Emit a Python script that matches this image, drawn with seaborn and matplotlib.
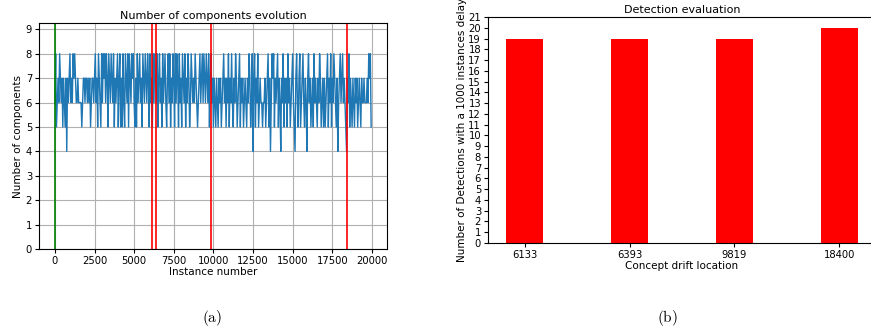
import numpy as np
import pandas as pd
import matplotlib
matplotlib.use('Agg')
import matplotlib.pyplot as plt
import seaborn as sns

components = [
    6, 8, 5, 6, 7, 6, 8, 7, 6, 7, 5, 7, 6, 5, 7, 4, 7, 6, 7, 8,
    6, 7, 6, 8, 7, 8, 7, 6, 6, 7, 6, 6, 6, 6, 5, 6, 7, 7, 6, 7,
    7, 6, 7, 6, 7, 5, 6, 7, 7, 6, 7, 8, 6, 7, 5, 8, 7, 6, 5, 8,
    6, 8, 7, 8, 6, 8, 7, 5, 8, 7, 6, 8, 7, 6, 8, 5, 7, 6, 7, 8,
    5, 7, 8, 5, 7, 5, 8, 6, 5, 8, 7, 6, 8, 5, 8, 7, 6, 8, 7, 8,
    6, 5, 7, 5, 8, 6, 7, 8, 6, 7, 5, 8, 7, 6, 8, 7, 6, 8, 7, 5,
    8, 6, 7, 5, 8, 6, 8, 7, 6, 8, 5, 7, 8, 6, 7, 5, 8, 6, 7, 8,
    6, 5, 7, 8, 6, 8, 5, 7, 6, 8, 7, 5, 8, 6, 8, 7, 5, 8, 6, 7,
    5, 8, 7, 6, 8, 5, 7, 6, 8, 7, 5, 6, 8, 7, 6, 7, 6, 8, 7, 6,
    5, 6, 7, 8, 6, 7, 8, 6, 8, 7, 6, 8, 7, 6, 8, 5, 7, 8, 6, 7,
    5, 7, 6, 5, 7, 6, 5, 7, 6, 7, 5, 6, 7, 8, 6, 7, 5, 7, 6, 8,
    5, 7, 6, 8, 6, 5, 7, 6, 8, 7, 5, 6, 7, 8, 5, 7, 6, 7, 5, 6,
    7, 6, 5, 7, 6, 8, 7, 5, 6, 8, 4, 7, 8, 5, 7, 6, 8, 5, 6, 7,
    6, 6, 5, 6, 6, 7, 5, 6, 7, 8, 5, 7, 4, 6, 8, 7, 8, 5, 7, 6,
    7, 8, 5, 7, 6, 4, 7, 6, 8, 5, 7, 6, 7, 5, 8, 6, 7, 5, 6, 7,
    8, 6, 5, 4, 7, 8, 6, 5, 7, 8, 5, 6, 7, 8, 6, 5, 7, 6, 4, 7,
    8, 6, 7, 5, 6, 7, 5, 8, 6, 7, 6, 5, 7, 6, 8, 7, 5, 6, 7, 5,
    7, 5, 6, 7, 8, 5, 7, 6, 8, 5, 7, 6, 8, 7, 6, 5, 7, 4, 6, 7,
    8, 6, 7, 8, 6, 7, 6, 5, 4, 7, 6, 8, 5, 7, 6, 5, 7, 6, 5, 7,
    6, 7, 5, 6, 7, 6, 5, 7, 6, 6, 7, 6, 6, 6, 7, 6, 8, 7, 8, 5,
]
instances = list(range(0, 50 * len(components), 50))
start_line = 0
drift_locations = [6133, 6393, 9819, 18400]
detections = [19, 19, 19, 20]

df_comp = pd.DataFrame({'instance': instances, 'components': components})
df_det = pd.DataFrame({'location': [str(v) for v in drift_locations], 'detections': detections})

fig = plt.figure(figsize=(8.71, 3.35), dpi=100)
ax1 = fig.add_axes([0.0448, 0.2567, 0.3995, 0.6746])
ax2 = fig.add_axes([0.5603, 0.2746, 0.4455, 0.6746])

# (a) components evolution
sns.lineplot(data=df_comp, x='instance', y='components', ax=ax1, color='#1f77b4', linewidth=1.0)
ax1.axvline(start_line, color='green', linewidth=1.2)
for loc in drift_locations:
    ax1.axvline(loc, color='red', linewidth=1.2)
ax1.set_xlim(-1000, 20950)
ax1.set_ylim(0, 9.26)
ax1.set_yticks(range(0, 10))
ax1.set_xticks(range(0, 20001, 2500))
ax1.grid(True, color='#b0b0b0', linewidth=0.8)
ax1.set_axisbelow(True)
ax1.set_title('Number of components evolution', fontsize=8, pad=3)
ax1.set_xlabel('Instance number', fontsize=7.5, labelpad=1)
ax1.set_ylabel('Number of components', fontsize=7.5, labelpad=2)
ax1.tick_params(labelsize=7.2, length=3, pad=2)

# (b) detection evaluation
sns.barplot(data=df_det, x='location', y='detections', ax=ax2, color='red', width=0.35, saturation=1)
ax2.set_xlim(-0.35, 3.35)
ax2.set_ylim(0, 21)
ax2.set_yticks(range(0, 22))
ax2.set_title('Detection evaluation', fontsize=8, pad=3)
ax2.set_xlabel('Concept drift location', fontsize=7.5, labelpad=1)
ax2.set_ylabel('Number of Detections with a 1000 instances delay', fontsize=7.5, labelpad=1)
ax2.tick_params(labelsize=7.2, length=3, pad=2)

plt.rcParams['mathtext.fontset'] = 'cm'
fig.text(212 / 871, 1 - 318 / 335, r'$\mathrm{(a)}$', ha='center', va='center', fontsize=11)
fig.text(667 / 871, 1 - 318 / 335, r'$\mathrm{(b)}$', ha='center', va='center', fontsize=11)

fig.savefig('out.png', dpi=100)
